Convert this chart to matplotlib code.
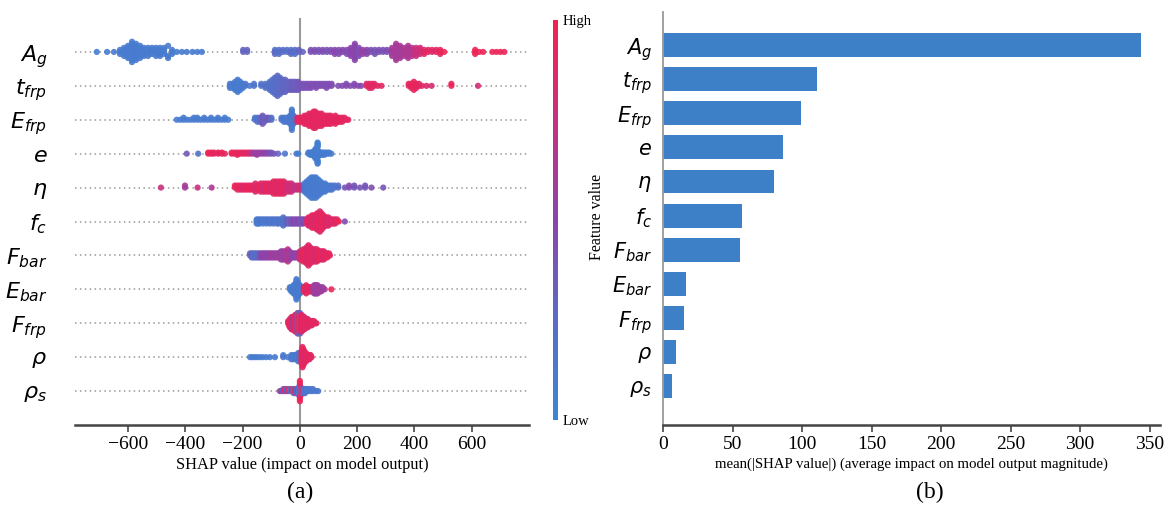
import numpy as np
import matplotlib
matplotlib.use('Agg')
import matplotlib.pyplot as plt
from matplotlib.colors import LinearSegmentedColormap, Normalize
from matplotlib.cm import ScalarMappable

plt.rcParams['mathtext.fontset'] = 'dejavusans'
SERIF = 'Liberation Serif'

# ---------------- data ----------------
features = [r'$A_g$', r'$t_{frp}$', r'$E_{frp}$', r'$e$', r'$\eta$', r'$f_c$',
            r'$F_{bar}$', r'$E_{bar}$', r'$F_{frp}$', r'$\rho$', r'$\rho_s$']

mean_abs_shap = [344, 111, 99, 86, 80, 57, 55.5, 16.5, 15, 9.4, 6.5]

# beeswarm: SHAP value, number of samples at that value, feature value (0 low .. 1 high)
ag_vals = [-709, -673, -649, -628, -614, -600, -586, -572, -558, -544, -530, -516, -502, -488, -474,
           -460, -446, -430, -412, -395, -375, -358, -342, -198, -184,
           -87, -73, -59, -45, -31, -17, -3, 10,
           38, 52, 66, 80, 94, 108, 122, 136, 150, 164, 178, 192, 206, 220, 234,
           248, 262, 276, 290, 304, 322, 336, 350, 364, 378, 392, 406, 420,
           434, 448, 462, 476, 490, 504, 612, 626, 640, 672, 686, 700, 714]
ag_cnt = [1, 1, 1, 3, 5, 7, 11, 9, 7, 5, 5, 4, 5, 5, 4,
          3, 3, 1, 1, 1, 1, 1, 1, 2, 2,
          3, 3, 2, 2, 3, 3, 2, 1,
          2, 2, 2, 2, 2, 2, 3, 3, 2, 3, 5, 9, 5, 3, 3,
          2, 3, 2, 2, 2, 5, 9, 7, 5, 7, 5, 5, 4,
          3, 2, 2, 2, 3, 1, 3, 1, 1, 1, 1, 1, 1]
ag_fv = [0.08, 0.08, 0.1, 0.1, 0.1, 0.1, 0.1, 0.12, 0.1, 0.12, 0.1, 0.12, 0.1, 0.12, 0.1,
         0.12, 0.1, 0.1, 0.1, 0.12, 0.1, 0.1, 0.12, 0.3, 0.3,
         0.25, 0.2, 0.25, 0.2, 0.25, 0.2, 0.3, 0.3,
         0.4, 0.45, 0.4, 0.45, 0.4, 0.45, 0.5, 0.45, 0.5, 0.45, 0.5, 0.5, 0.45, 0.55, 0.5,
         0.45, 0.4, 0.45, 0.4, 0.45, 0.6, 0.62, 0.6, 0.65, 0.62, 0.7, 0.75, 0.8,
         0.88, 0.9, 0.88, 0.9, 0.92, 0.95, 0.95, 0.95, 0.95, 0.95, 0.95, 0.95, 0.95]

tfrp_vals = [-244, -235, -226, -217, -208, -199, -190, -175, -160,
             -135, -120, -105, -96, -87, -78, -69, -60, -51, -42, -33, -24, -15, -6, 3,
             12, 21, 30, 39, 48, 57, 66, 75, 84, 93, 102, 111,
             134, 148, 162, 176, 190, 204, 214, 233, 242, 251, 260, 272, 285,
             380, 389, 398, 407, 416, 426, 442, 460, 529, 622]
tfrp_cnt = [3, 3, 5, 7, 5, 3, 2, 1, 2,
            2, 3, 5, 7, 9, 11, 9, 7, 7, 5, 5, 5, 5, 5, 3,
            3, 3, 3, 3, 2, 3, 2, 2, 2, 3, 2, 2,
            1, 1, 2, 1, 2, 1, 1, 2, 3, 3, 2, 1, 1,
            2, 3, 5, 3, 2, 1, 1, 1, 2, 1]
tfrp_fv = [0.1, 0.1, 0.12, 0.1, 0.1, 0.12, 0.15, 0.15, 0.15,
           0.2, 0.2, 0.2, 0.2, 0.22, 0.25, 0.25, 0.28, 0.3, 0.3, 0.32, 0.35, 0.35, 0.38, 0.4,
           0.4, 0.42, 0.4, 0.45, 0.42, 0.45, 0.42, 0.45, 0.42, 0.45, 0.45, 0.45,
           0.45, 0.48, 0.45, 0.48, 0.45, 0.5, 0.48, 0.85, 0.9, 0.88, 0.9, 0.9, 0.9,
           0.9, 0.92, 0.95, 0.9, 0.9, 0.88, 0.85, 0.82, 0.95, 0.8]

efrp_vals = [-430, -418, -406, -394, -382, -370, -358, -346, -334, -322, -310, -298, -286, -274, -262, -250,
             -157, -148, -139, -130, -124, -116, -108, -99,
             -64, -56, -48, -40, -34, -28, -22, -17,
             -8, 0, 8, 16, 24, 32, 40, 48, 54, 60, 68, 76, 84, 92, 100, 108, 116, 124, 132, 140,
             148, 156, 164, 169]
efrp_cnt = [1, 1, 2, 1, 1, 2, 2, 1, 2, 1, 2, 1, 2, 1, 2, 1,
            2, 3, 3, 5, 3, 2, 2, 2,
            2, 3, 3, 3, 5, 11, 5, 3,
            3, 3, 3, 5, 5, 7, 7, 9, 9, 7, 7, 7, 5, 5, 5, 5, 3, 5, 3, 3,
            3, 2, 1, 1]
efrp_fv = [0.1, 0.1, 0.1, 0.1, 0.1, 0.1, 0.1, 0.1, 0.1, 0.12, 0.1, 0.1, 0.12, 0.1, 0.1, 0.1,
           0.15, 0.2, 0.25, 0.4, 0.3, 0.35, 0.4, 0.2,
           0.15, 0.15, 0.12, 0.15, 0.12, 0.12, 0.15, 0.2,
           0.9, 0.92, 0.9, 0.92, 0.9, 0.92, 0.9, 0.92, 0.9, 0.92, 0.9, 0.92, 0.9, 0.92, 0.9, 0.92,
           0.9, 0.92, 0.9, 0.92, 0.9, 0.92, 0.9, 0.9]

e_vals = [-395, -355, -320, -310, -300, -285, -272, -262,
          -238, -228, -218, -208, -198, -188, -178, -169, -160, -150, -140, -130, -120, -110, -100, -90,
          -76, -52, -12, -6,
          30, 36, 42, 48, 54, 58, 62, 66, 72, 78, 86, 94, 102, 110]
e_cnt = [1, 1, 2, 2, 2, 2, 2, 1,
         2, 2, 3, 2, 2, 2, 2, 2, 2, 3, 2, 2, 2, 2, 2, 1,
         1, 1, 1, 1,
         2, 3, 3, 5, 9, 11, 9, 5, 3, 3, 3, 2, 2, 1]
e_fv = [0.4, 0.2, 0.95, 0.95, 0.9, 0.92, 0.95, 0.9,
        0.95, 0.92, 0.95, 0.9, 0.92, 0.85, 0.9, 0.7, 0.6, 0.55, 0.6, 0.5, 0.55, 0.45, 0.4, 0.4,
        0.3, 0.15, 0.1, 0.1,
        0.1, 0.1, 0.08, 0.1, 0.08, 0.1, 0.08, 0.1, 0.08, 0.1, 0.08, 0.1, 0.08, 0.1]

eta_vals = [-485, -401, -357, -308,
            -227, -218, -209, -200, -191, -182, -173, -164, -155, -146, -137, -128, -119, -110, -101,
            -92, -83, -74, -65, -56, -47, -38, -29, -20, -11, -2, 7,
            16, 24, 32, 40, 48, 56, 64, 72, 80, 88, 96, 104, 112, 122, 134,
            157, 172, 190, 210, 228, 250, 291]
eta_cnt = [1, 2, 1, 1,
           2, 3, 3, 3, 3, 3, 3, 3, 5, 3, 5, 5, 5, 5, 5,
           7, 7, 7, 7, 7, 5, 5, 5, 3, 3, 3, 3,
           5, 7, 9, 11, 11, 11, 9, 7, 5, 5, 3, 3, 3, 2, 2,
           1, 2, 2, 1, 2, 1, 1]
eta_fv = [0.75, 0.6, 0.75, 0.65,
          0.95, 0.9, 0.95, 0.85, 0.9, 0.95, 0.9, 0.95, 0.85, 0.9, 0.95, 0.8, 0.9, 0.95, 0.85,
          0.9, 0.92, 0.85, 0.9, 0.92, 0.85, 0.75, 0.8, 0.7, 0.75, 0.8, 0.7,
          0.15, 0.12, 0.1, 0.1, 0.12, 0.1, 0.12, 0.1, 0.15, 0.1, 0.12, 0.1, 0.15, 0.15, 0.2,
          0.4, 0.45, 0.4, 0.4, 0.4, 0.45, 0.4]

fc_vals = [-151, -146, -140, -134, -128, -122, -116, -110, -104, -98, -92, -86, -80, -74, -68, -62,
           -58, -54, -48, -42, -36, -30, -24, -18, -12, -6, 0, 6, 12, 17,
           24, 30, 36, 42, 48, 54, 60, 66, 70, 76, 82, 88, 94, 100, 106, 112, 118, 124, 130, 136, 157]
fc_cnt = [3, 3, 3, 2, 3, 2, 3, 2, 3, 2, 3, 2, 3, 3, 2, 3,
          5, 3, 3, 3, 3, 3, 3, 3, 3, 3, 3, 3, 3, 2,
          3, 5, 5, 7, 7, 7, 9, 9, 11, 9, 7, 5, 5, 5, 3, 3, 3, 3, 2, 1, 1]
fc_fv = [0.1, 0.15, 0.1, 0.2, 0.1, 0.15, 0.1, 0.2, 0.15, 0.1, 0.2, 0.15, 0.1, 0.2, 0.15, 0.1,
         0.2, 0.15, 0.3, 0.35, 0.25, 0.4, 0.45, 0.5, 0.4, 0.5, 0.45, 0.35, 0.5, 0.4,
         0.8, 0.9, 0.85, 0.9, 0.95, 0.8, 0.9, 0.95, 0.85, 0.9, 0.95, 0.9, 0.85, 0.9, 0.8, 0.9,
         0.95, 0.85, 0.9, 0.95, 0.45]

fbar_vals = [-174, -168, -162, -156, -150, -144, -138, -132, -126, -120, -114, -108, -102, -96, -90,
             -84, -78, -72, -66, -60, -54, -48, -42, -36, -30, -24, -18, -12, -6, 0, 6,
             12, 18, 24, 30, 36, 42, 48, 54, 60, 66, 72, 78, 84, 90, 96, 102, 105]
fbar_cnt = [2, 3, 3, 3, 3, 3, 3, 3, 3, 3, 3, 3, 3, 3, 3,
            3, 3, 3, 5, 5, 5, 5, 7, 5, 3, 3, 3, 3, 3, 5, 5,
            7, 7, 9, 11, 9, 7, 7, 7, 7, 5, 5, 5, 5, 3, 3, 2, 1]
fbar_fv = [0.3, 0.35, 0.2, 0.3, 0.15, 0.3, 0.45, 0.5, 0.55, 0.5, 0.55, 0.5, 0.55, 0.6, 0.55,
           0.6, 0.55, 0.6, 0.55, 0.6, 0.55, 0.6, 0.7, 0.55, 0.6, 0.55, 0.5, 0.55, 0.6, 0.75, 0.9,
           0.85, 0.95, 0.9, 0.85, 0.9, 0.95, 0.8, 0.9, 0.85, 0.9, 0.95, 0.9, 0.85, 0.9, 0.95, 0.9, 0.9]

ebar_vals = [-35, -30, -26, -22, -18, -15, -12, -9, -6, -3, 0, 3, 6, 10,
             14, 18, 22, 26, 30, 34, 38, 42, 46, 50, 54, 58, 62, 66, 70, 75, 80, 87, 110]
ebar_cnt = [2, 3, 3, 5, 5, 7, 11, 9, 7, 5, 5, 3, 3, 3,
            3, 3, 5, 3, 3, 3, 3, 3, 3, 5, 5, 5, 5, 3, 3, 3, 2, 1, 1]
ebar_fv = [0.1, 0.1, 0.12, 0.1, 0.1, 0.12, 0.1, 0.1, 0.12, 0.1, 0.12, 0.1, 0.1, 0.15,
           0.9, 0.95, 0.9, 0.85, 0.95, 0.9, 0.9, 0.85, 0.7, 0.6, 0.55, 0.6, 0.55, 0.6, 0.55, 0.6,
           0.55, 0.6, 0.95]

ffrp_vals = [-41, -38, -35, -32, -29, -26, -23, -20, -17, -14, -11, -8, -5, -2, 1, 4, 7, 10, 13,
             16, 19, 22, 25, 28, 31, 34, 38, 42, 46, 50, 54, 58]
ffrp_cnt = [2, 3, 5, 5, 7, 7, 7, 7, 9, 9, 9, 11, 11, 9, 11, 9, 9, 7, 7,
            7, 5, 5, 5, 5, 3, 3, 3, 3, 2, 2, 1, 1]
ffrp_fv = [0.9, 0.95, 0.85, 0.9, 0.9, 0.95, 0.6, 0.9, 0.95, 0.85, 0.4, 0.9, 0.3, 0.95, 0.3, 0.9,
           0.85, 0.95, 0.9, 0.85, 0.9, 0.95, 0.9, 0.85, 0.9, 0.95, 0.9, 0.85, 0.9, 0.95, 0.9, 0.9]

rho_vals = [-174, -166, -158, -150, -140, -130, -118, -105, -87, -58, -42, -30, -24, -18, -12, -6, -1, 3,
            6, 9, 12, 15, 18, 22, 26, 30, 34, 38, 41]
rho_cnt = [1, 1, 1, 1, 1, 1, 1, 1, 1, 2, 1, 3, 3, 3, 3, 5, 5, 3,
           7, 11, 9, 7, 5, 5, 3, 3, 3, 2, 1]
rho_fv = [0.1, 0.1, 0.1, 0.1, 0.1, 0.1, 0.1, 0.1, 0.1, 0.15, 0.1, 0.1, 0.15, 0.1, 0.15, 0.1, 0.2, 0.1,
          0.95, 0.9, 0.95, 0.9, 0.85, 0.9, 0.95, 0.9, 0.85, 0.9, 0.9]

rhos_vals = [-70, -64, -58, -52, -46, -40, -34, -28, -22, -16, -10, -6, -3, 0, 0.1, 3, 6, 10, 14, 18,
             24, 30, 38, 46, 56, 64]
rhos_cnt = [1, 1, 2, 2, 2, 2, 2, 2, 3, 3, 3, 3, 5, 6, 5, 5, 3, 3, 3, 3,
            2, 2, 2, 2, 1, 1]
rhos_fv = [0.6, 0.5, 0.3, 0.9, 0.2, 0.85, 0.1, 0.9, 0.15, 0.85, 0.2, 0.9, 0.1, 0.1, 0.95, 0.9, 0.15,
           0.85, 0.1, 0.2, 0.1, 0.15, 0.1, 0.15, 0.1, 0.15]

swarm_data = [(ag_vals, ag_cnt, ag_fv), (tfrp_vals, tfrp_cnt, tfrp_fv), (efrp_vals, efrp_cnt, efrp_fv),
              (e_vals, e_cnt, e_fv), (eta_vals, eta_cnt, eta_fv), (fc_vals, fc_cnt, fc_fv),
              (fbar_vals, fbar_cnt, fbar_fv), (ebar_vals, ebar_cnt, ebar_fv),
              (ffrp_vals, ffrp_cnt, ffrp_fv), (rho_vals, rho_cnt, rho_fv), (rhos_vals, rhos_cnt, rhos_fv)]

shap_ticks = [-600, -400, -200, 0, 200, 400, 600]
bar_ticks = [0, 50, 100, 150, 200, 250, 300, 350]


# ---------------- helpers ----------------
def swarm_offsets(vals, nbins=100, row_height=0.4):
    """SHAP summary-plot style vertical stacking (deterministic order)."""
    v = np.asarray(vals, float)
    quant = np.round(nbins * (v - v.min()) / (v.max() - v.min() + 1e-8))
    order = np.lexsort((v, quant))
    ys = np.zeros(len(v))
    layer, last = 0, None
    for i in order:
        if quant[i] != last:
            layer = 0
        ys[i] = np.ceil(layer / 2) * ((layer % 2) * 2 - 1)
        layer += 1
        last = quant[i]
    ys *= 0.9 * (row_height / np.max(ys + 1))
    return ys


cmap = LinearSegmentedColormap.from_list(
    'shap_rb', ['#3a86d6', '#5a6cc6', '#8a45ad', '#c8307f', '#f5224f'])

W, H = 1168, 508
fig = plt.figure(figsize=(W / 100, H / 100), dpi=100)

# ---------------- (a) beeswarm ----------------
ax1 = fig.add_axes([75 / W, 1 - 425 / H, (529 - 75) / W, (425 - 18) / H])
n = len(features)
ax1.axvline(0, color='#999999', lw=1.5, zorder=-1)
for i, (vals, cnt, fv) in enumerate(swarm_data):
    pos = n - 1 - i
    ax1.axhline(pos, color='#999999', lw=1.1, dashes=(1, 2.2), zorder=-1)
    sv = np.repeat(np.asarray(vals, float), cnt)
    cv = np.repeat(np.asarray(fv, float), cnt)
    ys = swarm_offsets(sv)
    ax1.scatter(sv, pos + ys, c=cv, cmap=cmap, vmin=0, vmax=1, s=20, linewidths=0,
                alpha=0.9, zorder=3)
ax1.set_xlim(-785, 800)
ax1.set_ylim(-1, n)
ax1.set_yticks(range(n))
ax1.set_yticklabels(features[::-1], fontsize=16)
ax1.tick_params(axis='y', length=0, pad=20)
ax1.set_xticks(shap_ticks)
ax1.set_xticklabels([str(t).replace('-', '\u2212') for t in shap_ticks], fontfamily=SERIF, fontsize=14)
ax1.tick_params(axis='x', length=5, width=1.2, color='#444444', pad=3)
for s in ['left', 'right', 'top']:
    ax1.spines[s].set_visible(False)
ax1.spines['bottom'].set_color('#444444')
ax1.spines['bottom'].set_linewidth(1.8)
ax1.set_xlabel('SHAP value (impact on model output)', fontfamily=SERIF, fontsize=11.8, labelpad=3)

# colorbar
cax = fig.add_axes([553 / W, 1 - 420 / H, 5 / W, 400 / H])
cb = fig.colorbar(ScalarMappable(norm=Normalize(0, 1), cmap=cmap), cax=cax, ticks=[0, 1])
cb.outline.set_visible(False)
cb.ax.set_yticklabels(['Low', 'High'], fontfamily=SERIF, fontsize=10.5)
cb.ax.tick_params(length=0, pad=3)
fig.text(597 / W, 1 - 217 / H, 'Feature value', rotation=90, ha='center', va='center',
         fontfamily=SERIF, fontsize=11.5)

# ---------------- (b) bar ----------------
ax2 = fig.add_axes([663 / W, 1 - 425 / H, (1160 - 663) / W, (425 - 12) / H])
ypos = np.arange(n)[::-1]
ax2.barh(ypos, mean_abs_shap, 0.7, color='#3d80c8', align='center')
ax2.set_xlim(0, 357.5)
ax2.set_ylim(-1.14, 10.97)
ax2.set_yticks(ypos)
ax2.set_yticklabels(features, fontsize=15)
ax2.tick_params(axis='y', length=0, pad=8)
ax2.set_xticks(bar_ticks)
ax2.set_xticklabels([str(t) for t in bar_ticks], fontfamily=SERIF, fontsize=14)
ax2.tick_params(axis='x', length=5, width=1.2, color='#444444', pad=3)
for s in ['right', 'top']:
    ax2.spines[s].set_visible(False)
ax2.spines['left'].set_color('#999999')
ax2.spines['left'].set_linewidth(1.3)
ax2.spines['bottom'].set_color('#444444')
ax2.spines['bottom'].set_linewidth(1.8)
ax2.set_xlabel('mean(|SHAP value|) (average impact on model output magnitude)',
               fontfamily=SERIF, fontsize=10.7, labelpad=3)

fig.text(300 / W, 1 - 492 / H, '(a)', ha='center', va='center', fontfamily=SERIF, fontsize=17)
fig.text(930 / W, 1 - 492 / H, '(b)', ha='center', va='center', fontfamily=SERIF, fontsize=17)

fig.savefig('out.png', dpi=100)
